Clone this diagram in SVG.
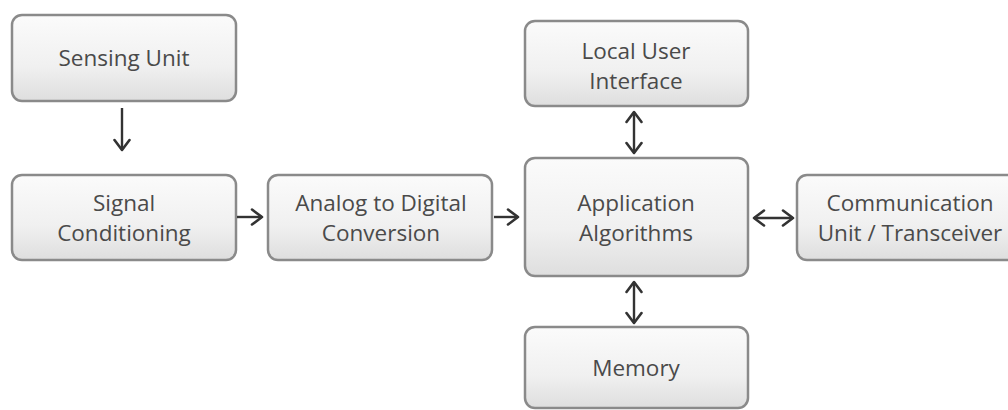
<svg xmlns="http://www.w3.org/2000/svg" width="1008" height="410" viewBox="0 0 1008 410">
<defs>
<linearGradient id="g" x1="0" y1="0" x2="0" y2="1">
<stop offset="0" stop-color="#fbfbfb"/>
<stop offset="0.6" stop-color="#f0f0f0"/>
<stop offset="1" stop-color="#dedede"/>
</linearGradient>
<marker id="ah" viewBox="0 0 18 18" refX="15" refY="9" markerWidth="18" markerHeight="18" markerUnits="userSpaceOnUse" orient="auto-start-reverse">
<path d="M5,1.5 L15,9 L5,16.5" fill="none" stroke="#333" stroke-width="2.6" stroke-linecap="round" stroke-linejoin="round"/>
</marker>
</defs>
<style>
.box{fill:url(#g);stroke:#8a8a8a;stroke-width:2.5}
.t{font-family:"Open Sans","Noto Sans",sans-serif;font-size:22.5px;font-weight:500;fill:#4a4a4a;text-anchor:middle}
.c{stroke:#333;stroke-width:2.4;fill:none}
</style>
<rect width="1008" height="410" fill="#ffffff"/>
<g id="sensing"><rect class="box" x="12" y="15" width="224" height="86" rx="10"/><text class="t" x="124" y="66">Sensing Unit</text></g>
<g id="signal"><rect class="box" x="12" y="175" width="224" height="85" rx="10"/><text class="t" x="124" y="211">Signal</text><text class="t" x="124" y="241">Conditioning</text></g>
<g id="adc"><rect class="box" x="268" y="175" width="224" height="85" rx="10"/><text class="t" x="381" y="211">Analog to Digital</text><text class="t" x="381" y="241">Conversion</text></g>
<g id="app"><rect class="box" x="525" y="158" width="223" height="118" rx="10"/><text class="t" x="636" y="211">Application</text><text class="t" x="636" y="241">Algorithms</text></g>
<g id="lui"><rect class="box" x="525" y="21" width="223" height="85" rx="10"/><text class="t" x="636" y="59">Local User</text><text class="t" x="636" y="89">Interface</text></g>
<g id="memory"><rect class="box" x="525" y="327" width="223" height="81" rx="10"/><text class="t" x="636" y="376">Memory</text></g>
<g id="comm"><rect class="box" x="797" y="175" width="230" height="85" rx="10"/><text class="t" x="910" y="211">Communication</text><text class="t" x="910" y="241">Unit / Transceiver</text></g>
<g id="connectors">
<line class="c" x1="122" y1="108" x2="122" y2="150" marker-end="url(#ah)"/>
<line class="c" x1="237" y1="217" x2="262" y2="217" marker-end="url(#ah)"/>
<line class="c" x1="494" y1="217" x2="518" y2="217" marker-end="url(#ah)"/>
<line class="c" x1="634" y1="112" x2="634" y2="153" marker-start="url(#ah)" marker-end="url(#ah)"/>
<line class="c" x1="634" y1="282" x2="634" y2="323" marker-start="url(#ah)" marker-end="url(#ah)"/>
<line class="c" x1="754" y1="218" x2="793" y2="218" marker-start="url(#ah)" marker-end="url(#ah)"/>
</g>
</svg>
